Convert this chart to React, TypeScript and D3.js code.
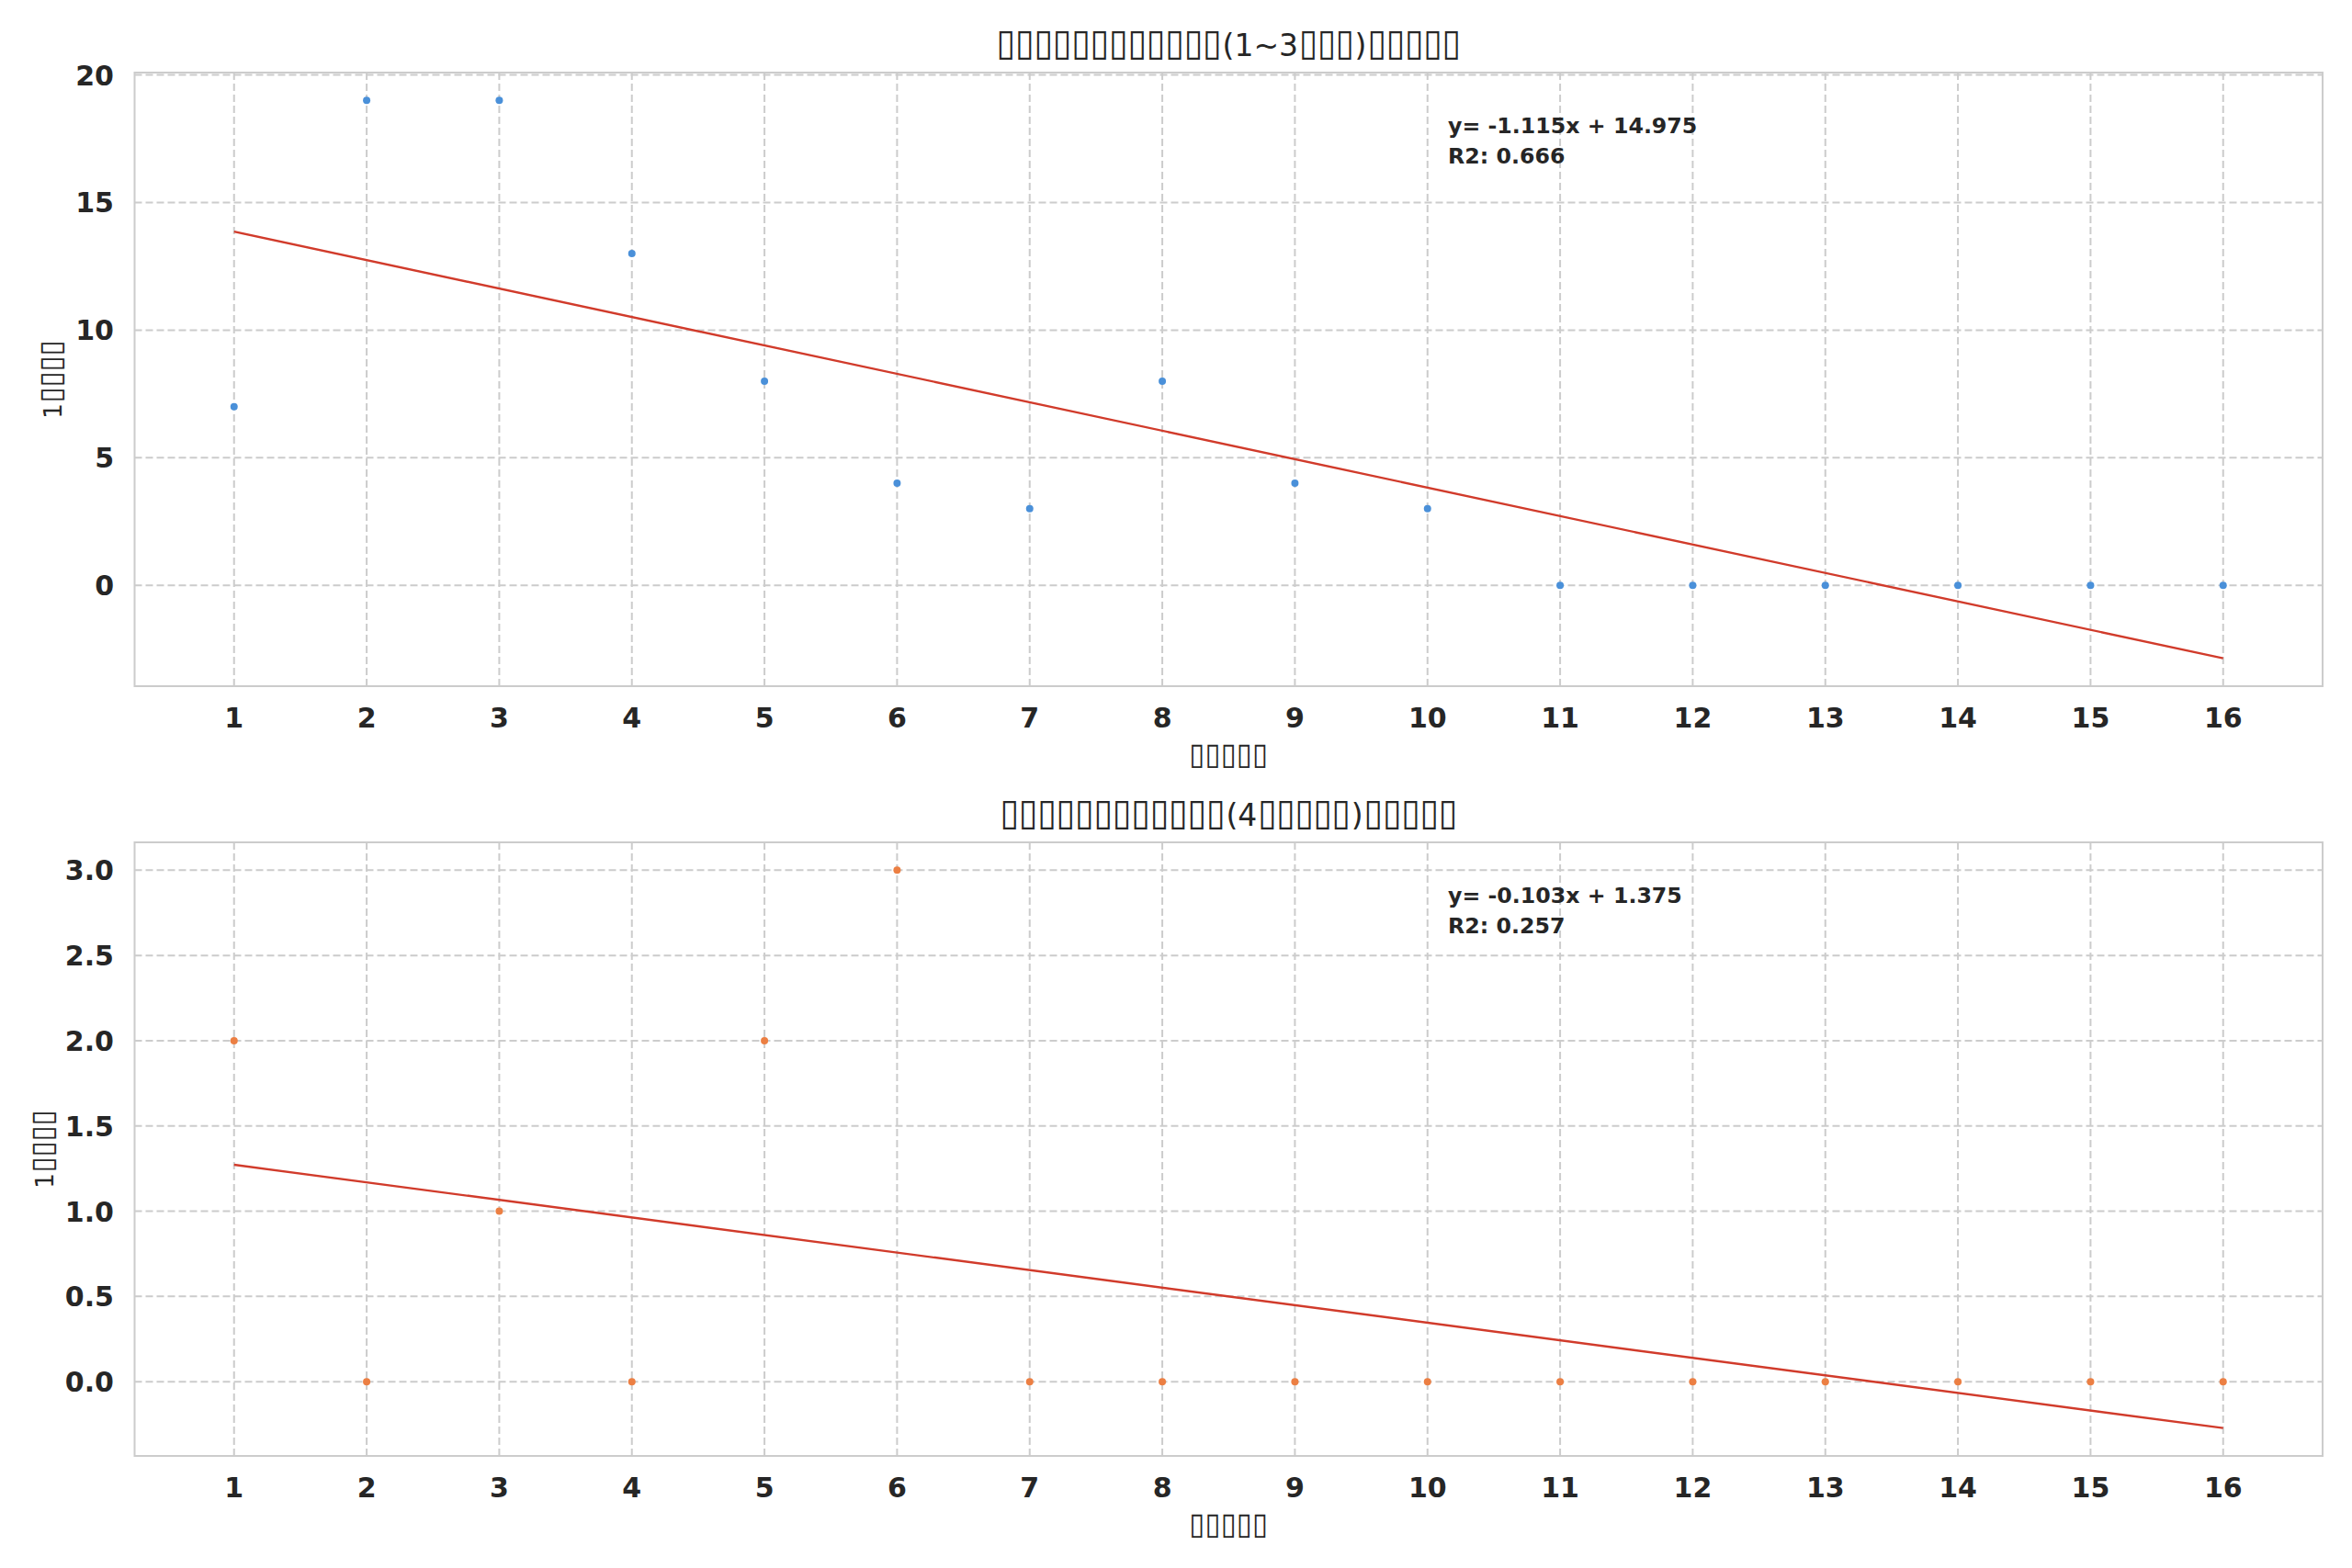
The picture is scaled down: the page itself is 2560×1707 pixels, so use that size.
import React from 'react';
import * as d3 from 'd3';

// ---- data ----
const months = [1, 2, 3, 4, 5, 6, 7, 8, 9, 10, 11, 12, 13, 14, 15, 16];
const juniorValues = [7, 19, 19, 13, 8, 4, 3, 8, 4, 3, 0, 0, 0, 0, 0, 0];
const seniorValues = [2, 0, 1, 0, 2, 3, 0, 0, 0, 0, 0, 0, 0, 0, 0, 0];
const juniorTicks = [0, 5, 10, 15, 20];
const seniorTicks = [0, 0.5, 1.0, 1.5, 2.0, 2.5, 3.0];

// Text as it appears in the reference (glyphs missing -> boxes)
const B = '\u25AF';
const rep = (n: number) => B.repeat(n);
const juniorTitle = `${rep(12)}(1~3${rep(3)})${rep(5)}`;
const seniorTitle = `${rep(12)}(4${rep(5)})${rep(5)}`;
const xLabelText = rep(5);
const yLabelText = `1${rep(4)}`;

const W = 2560;
const H = 1707;
const LEFT = 146.5;
const RIGHT = 2528;
const PANEL_H = 668;
const FONT = '"DejaVu Sans", sans-serif';
const TEXT = '#262626';
const GRID = '#cccccc';

let ctx: CanvasRenderingContext2D | null = null;
function getCtx() {
  if (!ctx && typeof document !== 'undefined') {
    ctx = document.createElement('canvas').getContext('2d');
  }
  return ctx;
}
function textWidth(t: string, size: number, weight = 'normal') {
  const c = getCtx();
  if (!c) return t.length * 0.62 * size;
  c.font = `${weight} ${size}px "DejaVu Sans"`;
  return c.measureText(t).width;
}
function boxMetrics() {
  const c = getCtx();
  if (!c) return { w: 60, asc: 70, desc: 0 };
  c.font = `normal 100px "DejaVu Sans"`;
  const m = c.measureText(B);
  const asc = m.actualBoundingBoxAscent || 70;
  const desc = m.actualBoundingBoxDescent || 0;
  return { w: m.width || 60, asc, desc };
}

type LabelProps = {
  text: string;
  x: number;
  y: number;
  fs: number;
  boxAdv: number;
  boxH: number;
  boxBelow: number;
  rotate?: boolean;
};

function TofuLabel({ text, x, y, fs, boxAdv, boxH, boxBelow, rotate }: LabelProps) {
  const runs: { t: string; box: boolean }[] = [];
  for (const ch of Array.from(text)) {
    const box = ch === B;
    const last = runs[runs.length - 1];
    if (last && last.box === box) last.t += ch;
    else runs.push({ t: ch, box });
  }
  const bm = boxMetrics();
  const F = (boxH / (bm.asc + bm.desc)) * 100;
  const widths = runs.map((r) => (r.box ? Array.from(r.t).length * boxAdv : textWidth(r.t, fs)));
  const total = d3.sum(widths);
  let cur = -total / 2;
  const els = runs.map((r, i) => {
    const x0 = cur;
    cur += widths[i];
    if (r.box) {
      const n = Array.from(r.t).length;
      const natural = (n * bm.w * F) / 100;
      const gapL = i > 0 ? 1 : 0;
      const gapR = i < runs.length - 1 ? 1 : 0;
      const sx = (widths[i] - gapL - gapR) / natural;
      const ry = boxBelow - (bm.desc * F) / 100;
      return (
        <text
          key={i}
          transform={`translate(${x0 + gapL},${ry}) scale(${sx},1)`}
          fontFamily={FONT}
          fontSize={F}
          fill={TEXT}
        >
          {r.t}
        </text>
      );
    }
    return (
      <text key={i} x={x0} y={0} fontFamily={FONT} fontSize={fs} fill={TEXT}>
        {r.t}
      </text>
    );
  });
  return <g transform={`translate(${x},${y})${rotate ? ' rotate(-90)' : ''}`}>{els}</g>;
}

function regress(xs: number[], ys: number[]) {
  const mx = d3.mean(xs) as number;
  const my = d3.mean(ys) as number;
  let sxy = 0, sxx = 0, syy = 0;
  xs.forEach((x, i) => {
    sxy += (x - mx) * (ys[i] - my);
    sxx += (x - mx) ** 2;
    syy += (ys[i] - my) ** 2;
  });
  const slope = sxy / sxx;
  const intercept = my - slope * mx;
  const r2 = (sxy * sxy) / (sxx * syy);
  return { slope, intercept, r2 };
}

type PanelProps = {
  top: number;
  values: number[];
  color: string;
  ticks: number[];
  fmt: (v: number) => string;
  title: string;
  yLabelX: number;
};

function Panel({ top, values, color, ticks, fmt, title, yLabelX }: PanelProps) {
  const bottom = top + PANEL_H;
  const { slope, intercept, r2 } = regress(months, values);
  const x0 = months[0];
  const x1 = months[months.length - 1];
  const f = (x: number) => slope * x + intercept;
  const lo = Math.min(d3.min(values) as number, f(x0), f(x1));
  const hi = Math.max(d3.max(values) as number, f(x0), f(x1));
  const pad = (hi - lo) * 0.05;
  const y = d3.scaleLinear().domain([lo - pad, hi + pad]).range([bottom, top]);
  const xpad = (x1 - x0) * 0.05;
  const x = d3.scaleLinear().domain([x0 - xpad, x1 + xpad]).range([LEFT, RIGHT]);
  const line = d3.line<number>().x((d) => x(d)).y((d) => y(f(d)));
  const cx = (LEFT + RIGHT) / 2;
  const cy = (top + bottom) / 2;
  const eq = `y= ${slope.toFixed(3)}x + ${intercept.toFixed(3)}`;
  return (
    <g>
      <rect x={LEFT} y={top} width={RIGHT - LEFT} height={PANEL_H} fill="#ffffff" />
      {months.map((m) => (
        <line key={'gx' + m} x1={x(m)} x2={x(m)} y1={top} y2={bottom} stroke={GRID} strokeWidth={2} strokeDasharray="8,4" />
      ))}
      {ticks.map((t) => (
        <line key={'gy' + t} x1={LEFT} x2={RIGHT} y1={y(t)} y2={y(t)} stroke={GRID} strokeWidth={2} strokeDasharray="8,4" />
      ))}
      <rect x={LEFT} y={top} width={RIGHT - LEFT} height={PANEL_H} fill="none" stroke={GRID} strokeWidth={2} />
      {months.map((m, i) => (
        <circle key={'p' + m} cx={x(m)} cy={y(values[i])} r={4} fill={color} />
      ))}
      <path d={line([x0, x1]) as string} fill="none" stroke="#d13b2b" strokeWidth={2.4} />
      {ticks.map((t) => (
        <text key={'ty' + t} x={LEFT - 22.5} y={y(t) + 11} textAnchor="end" fontFamily={FONT} fontWeight="bold" fontSize={30} fill={TEXT}>
          {fmt(t)}
        </text>
      ))}
      {months.map((m) => (
        <text key={'tx' + m} x={x(m)} y={bottom + 44.7} textAnchor="middle" fontFamily={FONT} fontWeight="bold" fontSize={30} fill={TEXT}>
          {m}
        </text>
      ))}
      <TofuLabel text={xLabelText} x={cx} y={bottom + 85.5} fs={26} boxAdv={17.2} boxH={26} boxBelow={3.5} />
      <TofuLabel text={yLabelText} x={yLabelX} y={cy} fs={26} boxAdv={17.2} boxH={26} boxBelow={3.5} rotate />
      <TofuLabel text={title} x={cx} y={top - 18} fs={33} boxAdv={20.5} boxH={31.7} boxBelow={4.3} />
      <text x={1576} y={top + 66} fontFamily={FONT} fontWeight="bold" fontSize={23.7} fill={TEXT}>
        {eq}
      </text>
      <text x={1576} y={top + 98.7} fontFamily={FONT} fontWeight="bold" fontSize={23.7} fill={TEXT}>
        {`R2: ${r2.toFixed(3)}`}
      </text>
    </g>
  );
}

export default function App() {
  return (
    <svg width={W} height={H} viewBox={`0 0 ${W} ${H}`} style={{ position: 'absolute', left: 0, top: 0, display: 'block' }}>
      <rect width={W} height={H} fill="#ffffff" />
      <Panel
        top={79}
        values={juniorValues}
        color="#4a90d9"
        ticks={juniorTicks}
        fmt={(v) => String(v)}
        title={juniorTitle}
        yLabelX={67}
      />
      <Panel
        top={917}
        values={seniorValues}
        color="#ec7f43"
        ticks={seniorTicks}
        fmt={(v) => v.toFixed(1)}
        title={seniorTitle}
        yLabelX={58}
      />
    </svg>
  );
}
